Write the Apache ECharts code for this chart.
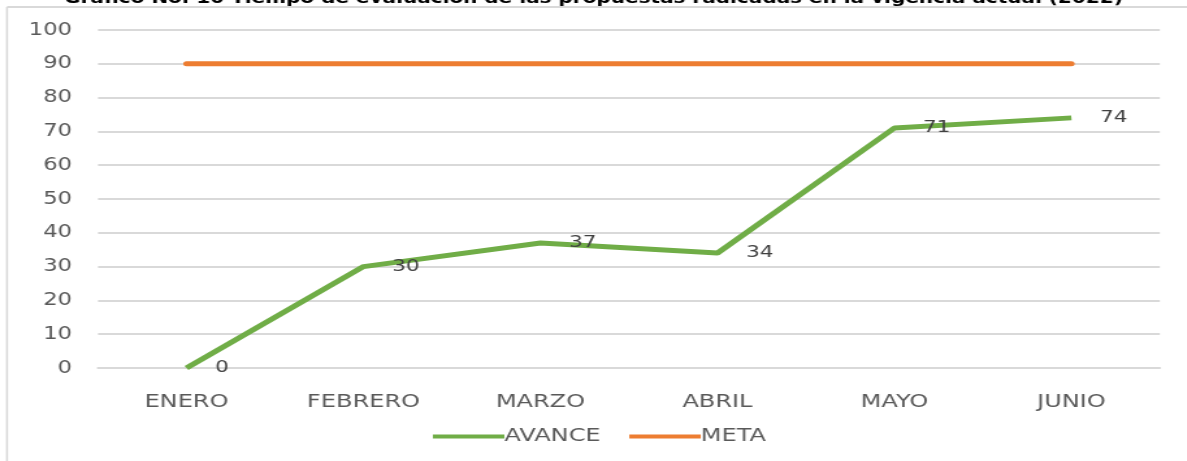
<!DOCTYPE html>
<html>
<head>
<meta charset="utf-8">
<script src="https://cdn.jsdelivr.net/npm/echarts@6/dist/echarts.min.js"></script>
<style>
  html, body { margin: 0; padding: 0; background: #fff; overflow: hidden; }
  /* el gráfico original viene estirado en horizontal: se dibuja angosto y se escala */
  #chart { width: 913px; height: 461px; transform: scaleX(1.3); transform-origin: 0 0; }
</style>
</head>
<body>
<div id="chart"></div>
<script>
var meses = ['ENERO', 'FEBRERO', 'MARZO', 'ABRIL', 'MAYO', 'JUNIO'];
var avance = [0, 30, 37, 34, 71, 74];
var meta = [90, 90, 90, 90, 90, 90];

var fuente = 'DejaVu Sans';
var myChart = echarts.init(document.getElementById('chart'));

var option = {
  animation: false,
  title: {
    text: 'Gráfico No. 10 Tiempo de evaluación de las propuestas radicadas en la vigencia actual (2022)',
    left: 'center',
    top: -14,
    textStyle: { fontFamily: fuente, fontSize: 15.4, fontWeight: 'bold', color: '#000' }
  },
  graphic: [
    { type: 'line', shape: { x1: 5.4, y1: 7, x2: 913, y2: 7 }, style: { stroke: '#d9d9d9', lineWidth: 2 } },
    { type: 'line', shape: { x1: 5.4, y1: 7, x2: 5.4, y2: 461 }, style: { stroke: '#d9d9d9', lineWidth: 1.6 } }
  ],
  legend: {
    left: 328,
    top: 422,
    icon: 'rect',
    itemWidth: 55,
    itemHeight: 4,
    itemGap: 22,
    textStyle: { fontFamily: fuente, fontSize: 18.5, color: '#595959', padding: [0, 0, 0, -5] },
    data: ['AVANCE', 'META']
  },
  grid: { left: 75.4, right: 20.8, top: 30, bottom: 93 },
  xAxis: {
    type: 'category',
    data: meses,
    axisLine: { lineStyle: { color: '#d9d9d9', width: 2 } },
    axisTick: { show: false },
    axisLabel: { fontFamily: fuente, fontSize: 18.5, color: '#595959', margin: 25 }
  },
  yAxis: {
    type: 'value',
    min: 0,
    max: 100,
    interval: 10,
    axisLine: { show: false },
    axisTick: { show: false },
    splitLine: { lineStyle: { color: '#d9d9d9', width: 2 } },
    axisLabel: { fontFamily: fuente, fontSize: 17.5, color: '#595959', margin: 20 }
  },
  series: [
    {
      name: 'AVANCE',
      type: 'line',
      data: avance,
      symbol: 'circle',
      symbolSize: 0.1,
      color: '#70ad47',
      lineStyle: { color: '#70ad47', width: 5 },
      label: {
        show: true,
        position: 'right',
        distance: 22,
        fontFamily: fuente,
        fontSize: 16.5,
        color: '#404040'
      },
      z: 3
    },
    {
      name: 'META',
      type: 'line',
      data: meta,
      showSymbol: false,
      color: '#ed7d31',
      lineStyle: { color: '#ed7d31', width: 5, cap: 'round' },
      z: 2
    }
  ]
};

myChart.setOption(option);
</script>
</body>
</html>
